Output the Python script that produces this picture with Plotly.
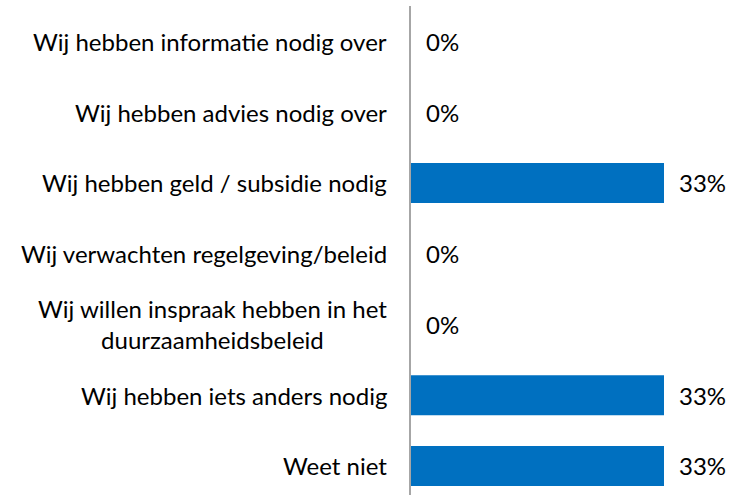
import plotly.graph_objects as go

categories = [
    "Wij hebben informatie nodig over",
    "Wij hebben advies nodig over",
    "Wij hebben geld / subsidie nodig",
    "Wij verwachten regelgeving/beleid",
    "Wij willen inspraak hebben in het<br>duurzaamheidsbeleid",
    "Wij hebben iets anders nodig",
    "Weet niet",
]
values = [0, 0, 33, 0, 0, 33, 33]
value_labels = [f"{v}%" for v in values]

FONT = "Lato"
FS = 24
fig = go.Figure()
fig.add_trace(go.Bar(
    y=list(range(len(categories))), x=values, orientation="h",
    marker=dict(color="#0070C0", line=dict(width=0)),
    width=0.565, showlegend=False,
))
for i, (c, v, t) in enumerate(zip(categories, values, value_labels)):
    fig.add_annotation(x=v, y=i, text=t, showarrow=False, xanchor="left",
                       xshift=13, font=dict(family=FONT, size=FS, color="#000000"))
    fig.add_annotation(x=0, xref="paper", y=i, text=c, showarrow=False,
                       xanchor="right", align="center", xshift=-22,
                       font=dict(family=FONT, size=FS, color="#000000"))

fig.update_layout(
    width=730, height=495,
    margin=dict(l=411, r=66, t=6, b=0),
    plot_bgcolor="white", paper_bgcolor="white",
    font=dict(family=FONT, size=FS, color="#000000"),
)
fig.update_xaxes(range=[0, 33], visible=False, showgrid=False, zeroline=False)
fig.update_yaxes(range=[6.41, -0.5], showline=True, linecolor="#A6A6A6", linewidth=2,
                 showgrid=False, zeroline=False, ticks="", showticklabels=False)
fig.write_html("out.html", post_script="document.body.style.margin='0';",
               config={"displayModeBar": False})
